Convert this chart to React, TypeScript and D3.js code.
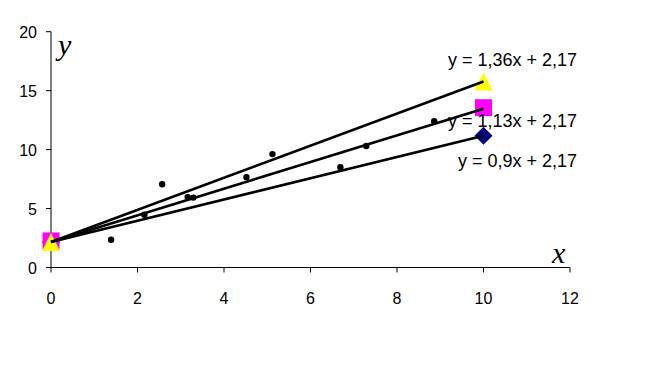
import * as d3 from "d3";

const xTicks = [0, 2, 4, 6, 8, 10, 12];
const yTicks = [0, 5, 10, 15, 20];

const pointsX = [1.39, 2.16, 2.57, 3.16, 3.29, 4.52, 5.12, 6.69, 7.29, 8.86];
const pointsY = [2.36, 4.47, 7.06, 5.97, 5.93, 7.65, 9.62, 8.5, 10.3, 12.4];

const slopes = [1.36, 1.13, 0.9];
const intercept = 2.17;
const lineLabels = ["y = 1,36x + 2,17", "y = 1,13x + 2,17", "y = 0,9x + 2,17"];
const labelY = [66, 127, 167];
const endX = 10;

export default function App() {
  const width = 667;
  const height = 371;

  const x = d3.scaleLinear().domain([0, 12]).range([51, 570]);
  const y = d3.scaleLinear().domain([0, 20]).range([267.5, 31.7]);

  const font = "Arial, 'Liberation Sans', sans-serif";
  const serif = "'Times New Roman', 'Liberation Serif', serif";
  // marker shapes, ~18px across
  const tri = "M0,-9L9,9L-9,9Z";
  const sq = "M-8.5,-8.5H8.5V8.5H-8.5Z";
  const dia = "M0,-9L9,0L0,9L-9,0Z";

  return (
    <svg
      width={width}
      height={height}
      style={{ position: "absolute", left: 0, top: 0, background: "#fff" }}
    >
      {/* axes */}
      <line x1={x(0)} x2={x(12)} y1={y(0)} y2={y(0)} stroke="#000" strokeWidth={1} />
      <line x1={x(0)} x2={x(0)} y1={y(0)} y2={y(20)} stroke="#000" strokeWidth={1} />
      {xTicks.map((t) => (
        <g key={"x" + t}>
          <line x1={x(t)} x2={x(t)} y1={y(0)} y2={y(0) + 5} stroke="#000" />
          <text x={x(t)} y={y(0) + 36} textAnchor="middle" fontFamily={font} fontSize={16}>
            {t}
          </text>
        </g>
      ))}
      {yTicks.map((t) => (
        <g key={"y" + t}>
          <line x1={x(0) - 5} x2={x(0)} y1={y(t)} y2={y(t)} stroke="#000" />
          <text x={37} y={y(t) + 6} textAnchor="end" fontFamily={font} fontSize={16}>
            {t}
          </text>
        </g>
      ))}
      <text x={58} y={55} fontFamily={serif} fontStyle="italic" fontSize={30}>
        y
      </text>
      <text x={552} y={263} fontFamily={serif} fontStyle="italic" fontSize={30}>
        x
      </text>

      {/* data points */}
      {pointsX.map((px, i) => (
        <circle key={"p" + i} cx={x(px)} cy={y(pointsY[i])} r={3.2} fill="#000" />
      ))}

      {/* markers */}
      <path d={dia} transform={`translate(${x(0)},${y(intercept)})`} fill="#000080" />
      <path d={sq} transform={`translate(${x(0)},${y(intercept) - 1})`} fill="#ff00ff" />
      <path d={tri} transform={`translate(${x(0)},${y(intercept)})`} fill="#ffff00" />
      <path d={dia} transform={`translate(${x(endX)},${y(intercept + slopes[2] * endX)})`} fill="#000080" />
      <path d={sq} transform={`translate(${x(endX)},${y(intercept + slopes[1] * endX) - 1})`} fill="#ff00ff" />
      <path d={tri} transform={`translate(${x(endX)},${y(intercept + slopes[0] * endX)})`} fill="#ffff00" />

      {/* fitted lines */}
      {slopes.map((s, i) => (
        <line
          key={"l" + i}
          x1={x(0)}
          y1={y(intercept)}
          x2={x(endX)}
          y2={y(intercept + s * endX)}
          stroke="#000"
          strokeWidth={2.6}
        />
      ))}

      {lineLabels.map((l, i) => (
        <text key={"t" + i} x={577} y={labelY[i]} textAnchor="end" fontFamily={font} fontSize={18}>
          {l}
        </text>
      ))}
    </svg>
  );
}
